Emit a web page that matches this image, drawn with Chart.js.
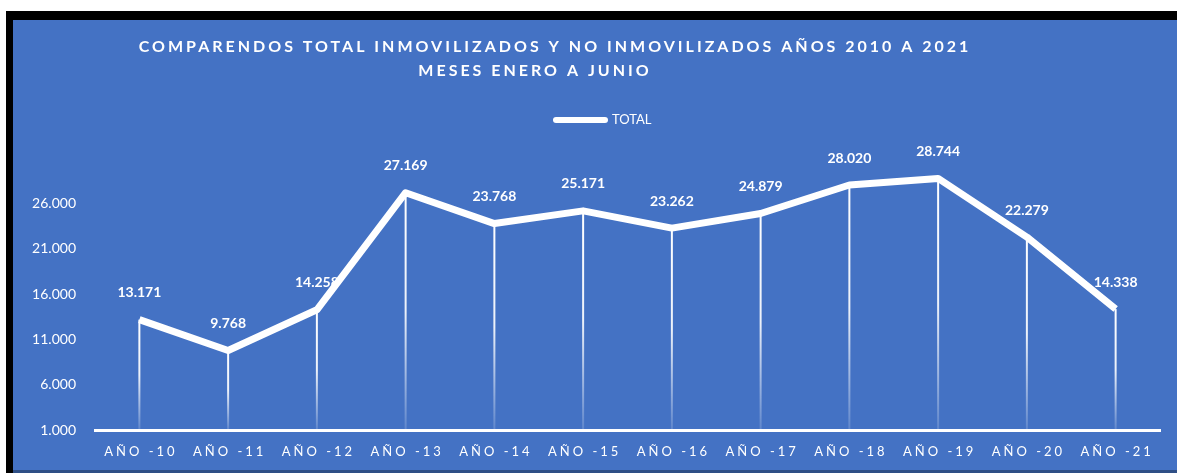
<!DOCTYPE html>
<html>
<head>
<meta charset="utf-8">
<script src="https://cdn.jsdelivr.net/npm/chart.js@4.4.0/dist/chart.umd.min.js"></script>
<style>
  html, body { margin: 0; padding: 0; background: #fff; overflow: hidden; }
  #frame { position: absolute; left: 6px; top: 11px; width: 1200px; height: 470px;
           background: #000; }
  #panel { position: absolute; left: 13px; top: 20px; width: 1164px; height: 450px;
           background: #4472c4; border-bottom: 3px solid #2f4f86; }
  #wrap { position: absolute; left: 13px; top: 20px; width: 1164px; height: 450px; }
</style>
</head>
<body>
<div id="frame"></div>
<div id="panel"></div>
<div id="wrap"><canvas id="chart"></canvas></div>
<script>
var years = ['AÑO -10', 'AÑO -11', 'AÑO -12', 'AÑO -13', 'AÑO -14', 'AÑO -15',
             'AÑO -16', 'AÑO -17', 'AÑO -18', 'AÑO -19', 'AÑO -20', 'AÑO -21'];
var totals = [13171, 9768, 14258, 27169, 23768, 25171, 23262, 24879, 28020, 28744, 22279, 14338];
var yTicks = [1000, 6000, 11000, 16000, 21000, 26000];
var titleLines = ['COMPARENDOS TOTAL INMOVILIZADOS Y NO INMOVILIZADOS AÑOS 2010 A 2021',
                  'MESES ENERO A JUNIO'];
var FONT = 'Lato, "Open Sans", sans-serif';

function fmt(v) {
    return String(v).replace(/\B(?=(\d{3})+(?!\d))/g, '.');
}

var decor = {
    id: 'decor',
    beforeDatasetsDraw: function(chart) {
        var ctx = chart.ctx;
        var meta = chart.getDatasetMeta(0);
        var bottom = chart.chartArea.bottom;
        ctx.save();
        // drop lines
        meta.data.forEach(function(pt) {
            var g = ctx.createLinearGradient(0, pt.y, 0, bottom);
            g.addColorStop(0, 'rgba(255,255,255,1)');
            g.addColorStop(0.5, 'rgba(255,255,255,0.9)');
            g.addColorStop(1, 'rgba(255,255,255,0.15)');
            ctx.strokeStyle = g;
            ctx.lineWidth = 2;
            ctx.beginPath();
            ctx.moveTo(pt.x, pt.y);
            ctx.lineTo(pt.x, bottom);
            ctx.stroke();
        });
        // data labels
        ctx.fillStyle = '#fff';
        ctx.font = 'bold 14px ' + FONT;
        ctx.textAlign = 'center';
        ctx.textBaseline = 'middle';
        meta.data.forEach(function(pt, i) {
            ctx.fillText(fmt(totals[i]), pt.x, pt.y - 27);
        });
        ctx.restore();
    },
    afterDraw: function(chart) {
        var ctx = chart.ctx;
        var xs = chart.scales.x;
        ctx.save();
        ctx.fillStyle = '#fff';
        // title
        ctx.font = 'bold 16px ' + FONT;
        ctx.letterSpacing = '3px';
        ctx.textAlign = 'center';
        ctx.textBaseline = 'middle';
        ctx.fillText(titleLines[0], 542, 27);
        ctx.fillText(titleLines[1], 522, 51);
        // legend
        ctx.letterSpacing = '0px';
        ctx.strokeStyle = '#fff';
        ctx.lineWidth = 6;
        ctx.lineCap = 'round';
        ctx.beginPath();
        ctx.moveTo(543, 100);
        ctx.lineTo(592, 100);
        ctx.stroke();
        ctx.font = '13px ' + FONT;
        ctx.textAlign = 'left';
        ctx.fillText('TOTAL', 599, 100);
        // x labels
        ctx.font = '13px ' + FONT;
        ctx.letterSpacing = '3px';
        ctx.textAlign = 'center';
        years.forEach(function(lbl, i) {
            ctx.fillText(lbl, xs.getPixelForValue(i) + 1.5, xs.top + 22);
        });
        ctx.restore();
    }
};

new Chart(document.getElementById('chart'), {
    type: 'line',
    data: {
        labels: years,
        datasets: [{
            label: 'TOTAL',
            data: totals,
            borderColor: '#fff',
            backgroundColor: '#fff',
            borderWidth: 7,
            borderJoinStyle: 'round',
            pointRadius: 0,
            tension: 0
        }]
    },
    options: {
        responsive: true,
        maintainAspectRatio: false,
        animation: false,
        layout: { padding: { top: 138, right: 17, left: 0, bottom: 0 } },
        scales: {
            x: {
                offset: true,
                grid: { display: false },
                border: { color: '#fff', width: 3 },
                ticks: { color: 'transparent', font: { size: 13, family: FONT } },
                afterFit: function(s) { s.height = 40; }
            },
            y: {
                min: 1000,
                max: 31000,
                grid: { display: false },
                border: { display: false },
                afterBuildTicks: function(s) {
                    s.ticks = yTicks.map(function(v) { return { value: v }; });
                },
                ticks: {
                    color: '#fff',
                    padding: 11,
                    font: { size: 14, family: FONT },
                    callback: function(v) { return fmt(v); }
                },
                afterFit: function(s) { s.width = 82; }
            }
        },
        plugins: {
            legend: { display: false },
            tooltip: { enabled: false }
        }
    },
    plugins: [decor]
});
</script>
</body>
</html>
